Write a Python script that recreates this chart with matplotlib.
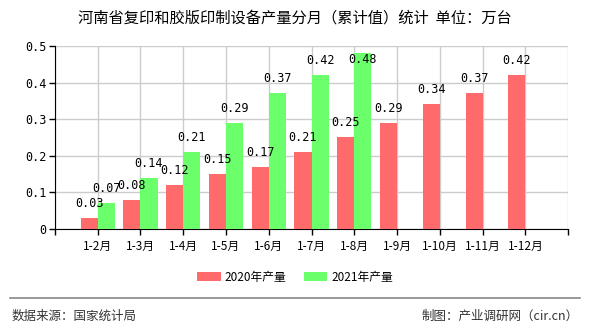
import matplotlib.pyplot as plt
from matplotlib.lines import Line2D
import numpy as np

plt.rcParams['font.family'] = ['Noto Sans CJK SC', 'DejaVu Sans']

months = ['1-2月', '1-3月', '1-4月', '1-5月', '1-6月', '1-7月', '1-8月',
          '1-9月', '1-10月', '1-11月', '1-12月']
vals_2020 = [0.03, 0.08, 0.12, 0.15, 0.17, 0.21, 0.25, 0.29, 0.34, 0.37, 0.42]
vals_2021 = [0.07, 0.14, 0.21, 0.29, 0.37, 0.42, 0.48]

red = '#ff6b6b'
green = '#6bff6b'

fig = plt.figure(figsize=(5.9, 3.3), dpi=100)
ax = fig.add_axes([0.093, 0.306, 0.870, 0.555])

x = np.arange(len(months))
w = 0.4
b1 = ax.bar(x[:len(vals_2020)] - w / 2, vals_2020, w, color=red, label='2020年产量', zorder=3)
b2 = ax.bar(x[:len(vals_2021)] + w / 2, vals_2021, w, color=green, label='2021年产量', zorder=3)

# value labels above bars (kept inside the plot area near the top)
for bars, vals in ((b1, vals_2020), (b2, vals_2021)):
    for rect, v in zip(bars, vals):
        ax.text(rect.get_x() + rect.get_width() / 2, min(v + 0.022, 0.445), f'{v:.2f}',
                ha='center', va='bottom', fontsize=8.5, family='DejaVu Sans Mono', zorder=4)

ax.set_xlim(-1, len(months))
ax.set_ylim(0, 0.5)
ax.set_xticks(np.arange(-1, len(months) + 1))
ax.set_xticklabels([''] + months + [''], fontsize=8.5)
ax.set_yticks([0, 0.1, 0.2, 0.3, 0.4, 0.5])
ax.set_yticklabels(['0', '0.1', '0.2', '0.3', '0.4', '0.5'], fontsize=8.5, family='DejaVu Sans Mono')
ax.grid(True, color='#cccccc', linewidth=1, zorder=0)
ax.tick_params(axis='both', length=4, width=1, color='black', pad=2)
ax.tick_params(axis='x', pad=4)
for s in ['top', 'right']:
    ax.spines[s].set_visible(False)
ax.spines['left'].set_color('black')
ax.spines['bottom'].set_color('black')

fig.text(0.5, 0.945, '河南省复印和胶版印制设备产量分月（累计值）统计  单位：万台',
         ha='center', va='center', fontsize=11)

fig.legend(handles=[b1, b2], loc='center', bbox_to_anchor=(0.5, 0.16), ncol=2,
           frameon=False, fontsize=8.5, handlelength=2.0, handleheight=0.8,
           handletextpad=0.3, columnspacing=1.5)

fig.add_artist(Line2D([0.017, 0.983], [0.097, 0.097], color='#888888', linewidth=1.2))
fig.text(0.02, 0.042, '数据来源：国家统计局', ha='left', va='center', fontsize=9, color='#333333')
fig.text(0.98, 0.042, '制图：产业调研网（cir.cn）', ha='right', va='center', fontsize=9, color='#333333')

fig.savefig('out.png', dpi=100)
